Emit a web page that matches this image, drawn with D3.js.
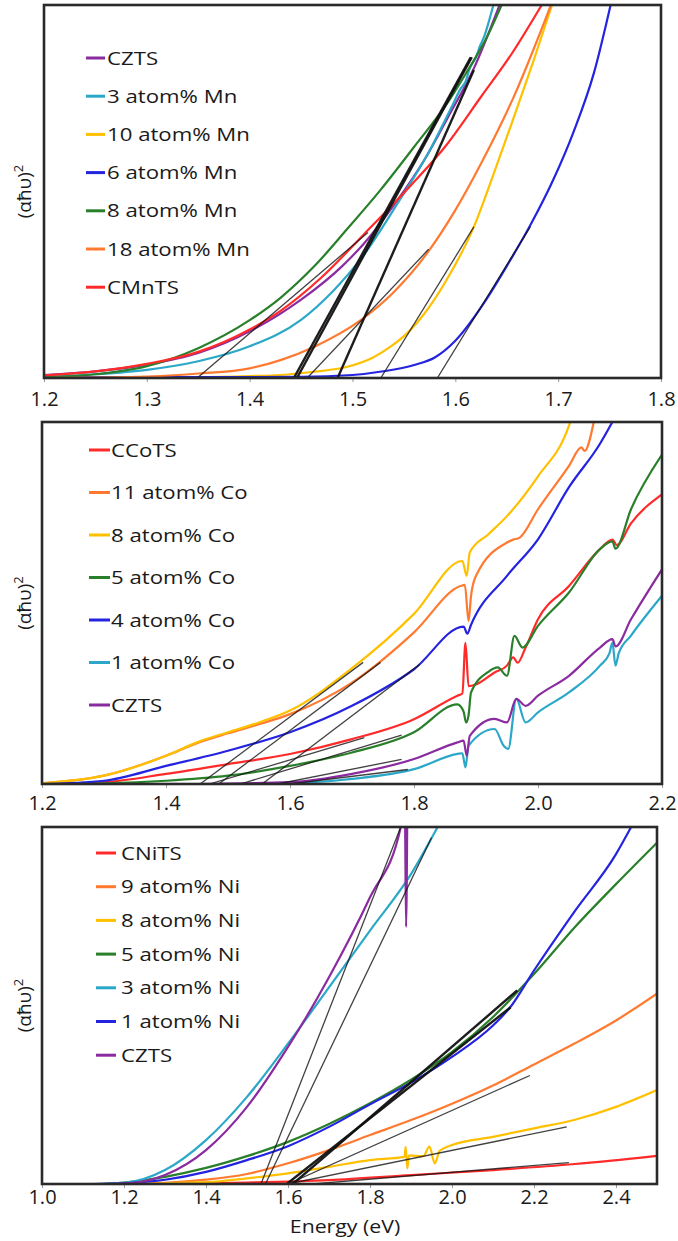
<!DOCTYPE html>
<html>
<head>
<meta charset="utf-8">
<script src="https://cdn.jsdelivr.net/npm/d3@7"></script>
<style>
body{margin:0;background:#fff;}
text{font-family:"Open Sans",sans-serif;fill:#1a1a1a;}
</style>
</head>
<body>
<svg id="fig" width="678" height="1241"></svg>
<script>
// colours used in all three panels
var PURPLE="#8B2BA0",CYAN="#2BA8C8",YELLOW="#FFC000",BLUE="#2424E0",GREEN="#2A7F2A",ORANGE="#FF7A30",RED="#FF2A2A";

/* ---- panel 1 : Mn ---- */
var mnNames=["CZTS","3 atom% Mn","10 atom% Mn","6 atom% Mn","8 atom% Mn","18 atom% Mn","CMnTS"];
var mnColors=[PURPLE,CYAN,YELLOW,BLUE,GREEN,ORANGE,RED];
var mnTicks=[1.2,1.3,1.4,1.5,1.6,1.7,1.8];
var mnCZTS=[[1.2,0.8],[1.25,1.8],[1.3,3.6],[1.35,6.7],[1.4,12.5],[1.45,21],[1.49,30],[1.511,36],[1.542,47],[1.57,58.5],[1.593,70],[1.618,83],[1.643,100]];
var mn3=[[1.2,0.3],[1.25,1.0],[1.3,2.2],[1.35,4.5],[1.4,8.5],[1.45,15.6],[1.48,23],[1.511,33],[1.542,46],[1.575,61],[1.597,73],[1.605,77.5],[1.61,79.5],[1.614,83],[1.62,86],[1.624,89],[1.628,91.5],[1.632,95],[1.637,100]];
var mn10=[[1.2,0],[1.35,0.2],[1.4,0.5],[1.43,0.8],[1.46,1.6],[1.495,3],[1.52,5.5],[1.537,8.4],[1.555,12.5],[1.57,17.3],[1.593,27],[1.618,40.5],[1.637,54.5],[1.657,70],[1.676,85],[1.694,100]];
var mn6=[[1.2,0.2],[1.45,0.3],[1.5,0.8],[1.53,1.8],[1.56,3.5],[1.58,5.5],[1.6,10],[1.63,21],[1.65,30],[1.673,41],[1.695,53],[1.715,66],[1.735,82],[1.751,100]];
var mn8=[[1.2,0.2],[1.25,1.0],[1.3,3.2],[1.35,8],[1.4,15.5],[1.43,21.5],[1.463,30],[1.495,40],[1.5275,50.5],[1.56,62],[1.593,74],[1.61,81.5],[1.63,91],[1.645,100]];
var mn18=[[1.2,0],[1.25,0.1],[1.3,0.4],[1.35,1.2],[1.4,2.6],[1.43,4.8],[1.463,8.4],[1.508,15.5],[1.54,23],[1.574,34],[1.6,45],[1.625,57.5],[1.657,75.5],[1.693,100]];
var mnCMnTS=[[1.2,0.7],[1.25,1.8],[1.3,3.8],[1.35,7],[1.4,13],[1.43,18],[1.47,27],[1.511,38.5],[1.558,52],[1.59,62],[1.625,75.4],[1.655,87],[1.684,100]];
// linear fits: start energy, start value, end energy, end value
var mnFits=[[1.349,0,1.515,39],[1.443,0,1.615,86],[1.446,0,1.616,86],[1.456,0,1.574,34.5],[1.4855,0,1.618,82.6],[1.5275,0,1.618,40.5],[1.5825,0,1.673,40.6]];
var mnFitBold=[0,1,1,0,1,0,0];

/* ---- panel 2 : Co ---- */
var coNames=["CCoTS","11 atom% Co","8 atom% Co","5 atom% Co","4 atom% Co","1 atom% Co","CZTS"];
var coColors=[RED,ORANGE,YELLOW,GREEN,BLUE,CYAN,PURPLE];
var coTicks=[1.2,1.4,1.6,1.8,2.0,2.2];
var coCCoTS=[[1.2,0],[1.3,0.5],[1.4,2.8],[1.5,5.5],[1.6,8.3],[1.7,12.4],[1.8,17.9],[1.87,24.4],[1.878,25],[1.883,39],[1.888,27],[1.9,27.5],[1.93,30.8],[1.95,32.7],[1.96,35],[1.967,33.5],[1.98,37.7],[2.0,45.5],[2.05,54.7],[2.1,64.9],[2.12,67.5],[2.127,66],[2.15,72],[2.2,80]];
var coCo11=[[1.2,0.2],[1.3,2.3],[1.4,7.8],[1.45,11.3],[1.5,14],[1.55,16.5],[1.6,19.3],[1.7,28],[1.8,41.9],[1.875,54.7],[1.882,55],[1.888,45],[1.892,52],[1.9,57.5],[1.95,66.7],[1.96,67.5],[1.97,68],[2.0,75.9],[2.05,87.9],[2.07,93],[2.075,92],[2.09,100]];
var coCo8=[[1.2,0.2],[1.3,2.3],[1.4,7.8],[1.45,11.5],[1.5,14.3],[1.55,17],[1.6,20.3],[1.7,32],[1.8,47],[1.878,61.6],[1.885,57.5],[1.89,64],[1.92,69],[1.95,74],[2.0,85],[2.05,99],[2.052,100]];
var coCo5=[[1.2,0],[1.3,0.2],[1.4,0.9],[1.5,2.3],[1.6,5],[1.7,8.7],[1.8,14.3],[1.87,22],[1.88,20],[1.884,17],[1.888,19],[1.892,25.3],[1.92,31],[1.935,32.2],[1.95,29.9],[1.962,40.9],[1.975,37.7],[2.0,43.7],[2.05,52.9],[2.1,64.9],[2.12,67],[2.125,65],[2.15,75.9],[2.2,91]];
var coCo4=[[1.2,0],[1.3,0.9],[1.4,5],[1.5,9.2],[1.6,14.3],[1.7,21.6],[1.8,31.7],[1.88,43.5],[1.886,41.5],[1.892,44],[1.95,57.5],[2.0,67.6],[2.05,82],[2.1,94],[2.12,100]];
var coCo1=[[1.5,0],[1.6,0.2],[1.7,1.4],[1.8,4.1],[1.87,8.3],[1.878,8.5],[1.883,4.6],[1.888,10.6],[1.93,15.2],[1.945,10.5],[1.952,9.7],[1.965,23.5],[1.98,17],[2.0,19.8],[2.05,25.3],[2.1,32.7],[2.115,36],[2.12,39],[2.125,32.7],[2.13,36],[2.15,41],[2.2,52]];
var coCZTS=[[1.45,0],[1.6,0.5],[1.7,2.8],[1.8,6.9],[1.87,11.5],[1.88,12],[1.885,7.8],[1.89,13.3],[1.93,18],[1.95,17],[1.965,23.5],[1.98,21.6],[2.0,24.4],[2.05,29.9],[2.1,37.7],[2.12,40],[2.125,38],[2.15,45.5],[2.2,59.3]];
var coFits=[[1.47,0,1.72,12.8],[1.485,0,1.746,33.6],[1.455,0,1.718,33.6],[1.52,0,1.78,13.5],[1.555,0,1.809,33],[1.6,0,1.79,4],[1.58,0,1.78,6.8]];
var coFitBold=[0,0,0,0,0,0,0];

/* ---- panel 3 : Ni ---- */
var niNames=["CNiTS","9 atom% Ni","8 atom% Ni","5 atom% Ni","3 atom% Ni","1 atom% Ni","CZTS"];
var niColors=[RED,ORANGE,YELLOW,GREEN,CYAN,BLUE,PURPLE];
var niTicks=[1.0,1.2,1.4,1.6,1.8,2.0,2.2,2.4];
var niCNiTS=[[1.3,0],[1.5,0.4],[1.7,1.1],[1.9,2.5],[2.1,3.9],[2.3,5.6],[2.5,7.9]];
var ni9=[[1.2,0],[1.3,0.3],[1.4,1.2],[1.5,2.8],[1.6,5.8],[1.7,9.5],[1.8,13.7],[1.9,17.9],[2.0,22.5],[2.1,27.6],[2.2,33.5],[2.3,39.4],[2.4,45.8],[2.5,53.3]];
var ni8=[[1.2,0],[1.4,0.5],[1.5,1.6],[1.6,3],[1.7,4.8],[1.8,6.7],[1.884,7.6],[1.887,10.4],[1.891,4.4],[1.895,8],[1.93,7.8],[1.945,10.5],[1.958,5.8],[1.97,9.3],[2.0,10.9],[2.1,13.2],[2.2,15.6],[2.3,18],[2.4,21.6],[2.5,26.3]];
var ni5=[[1.15,0],[1.2,0.4],[1.3,2],[1.4,4.5],[1.5,7.8],[1.6,11.8],[1.7,16.8],[1.8,22.6],[1.9,29.2],[2.0,37],[2.1,46.8],[2.2,58.8],[2.3,72],[2.4,84],[2.5,95.6]];
var ni3=[[1.13,0],[1.2,0.3],[1.3,3.9],[1.4,12.3],[1.5,24.4],[1.6,39.3],[1.7,55.1],[1.8,71],[1.9,86.8],[1.965,100]];
var ni1=[[1.15,0],[1.2,0.2],[1.3,1.2],[1.4,3.4],[1.5,6.7],[1.6,10.6],[1.7,16],[1.8,22.3],[1.9,28.4],[2.0,35.6],[2.1,44.4],[2.14,49.2],[2.2,59.8],[2.3,76.5],[2.4,92.4],[2.437,100]];
var niCZTS=[[1.12,0],[1.2,0.1],[1.3,2.5],[1.4,9.5],[1.5,21.6],[1.6,38.4],[1.7,57.9],[1.8,80.3],[1.875,100],[1.885,106],[1.888,72],[1.891,106]];
var niFits=[[1.66,0,2.285,6],[1.6,0,2.19,30.4],[1.6,0,2.28,16],[1.612,0,2.159,54.2],[1.545,0,1.95,97],[1.597,0,2.143,49.5],[1.534,0,1.875,100]];
var niFitBold=[0,0,0,1,0,1,0];

var svg=d3.select("#fig");

function drawPanel(id,box,domain,ticks,tickFmt,tickPad,names,colors,series,fits,bold,legend){
	var x=d3.scaleLinear().domain(domain).range([box.l,box.r]);
	var y=d3.scaleLinear().domain([0,100]).range([box.b,box.t]);
	var g=svg.append("g");
	g.append("clipPath").attr("id",id).append("rect")
		.attr("x",box.l).attr("y",box.t).attr("width",box.r-box.l).attr("height",box.b-box.t);
	var line=d3.line().x(function(d){return x(d[0]);}).y(function(d){return y(d[1]);}).curve(d3.curveMonotoneX);
	var plot=g.append("g").attr("clip-path","url(#"+id+")");
	series.forEach(function(s,i){
		plot.append("path").attr("d",line(s)).attr("fill","none")
			.attr("stroke",colors[i]).attr("stroke-width",2.2).attr("stroke-linejoin","round");
	});
	fits.forEach(function(f,i){
		plot.append("line").attr("x1",x(f[0])).attr("y1",y(f[1])).attr("x2",x(f[2])).attr("y2",y(f[3]))
			.attr("stroke","#111").attr("stroke-opacity",bold[i]?0.95:0.8).attr("stroke-width",bold[i]?2.4:1.3);
	});
	// axis
	var ax=g.append("g").attr("transform","translate(0,"+box.b+")")
		.call(d3.axisBottom(x).tickValues(ticks).tickFormat(tickFmt).tickSize(4).tickPadding(tickPad));
	ax.select(".domain").remove();
	ax.selectAll(".tick line").attr("stroke","#999");
	ax.selectAll(".tick text").style("font-size","20px").style("font-family","Open Sans, sans-serif").attr("fill","#111");
	// frame
	g.append("rect").attr("x",box.l).attr("y",box.t).attr("width",box.r-box.l).attr("height",box.b-box.t)
		.attr("fill","none").attr("stroke","#2a2a2a").attr("stroke-width",2.6);
	// y label
	var yl=g.append("text").attr("transform","translate(31,"+((box.t+box.b)/2)+") rotate(-90)")
		.attr("text-anchor","middle").style("font-size","19px");
	yl.append("tspan").text("(\u03B1\u0127\u03C5)");
	yl.append("tspan").text("2").attr("dy",-8).style("font-size","13px");
	// legend
	names.forEach(function(n,i){
		var ly=legend.y+i*legend.dy;
		g.append("line").attr("x1",legend.x0).attr("x2",legend.x1).attr("y1",ly).attr("y2",ly)
			.attr("stroke",colors[i]).attr("stroke-width",3);
		g.append("text").attr("transform","translate("+legend.tx+","+(ly+6.5)+") scale(1.2,1)")
			.style("font-size","18.5px").text(n);
	});
}

var f1=function(d){return d3.format(".1f")(d);};
drawPanel("c1",{l:44,r:661,t:5,b:378},[1.2,1.8],mnTicks,f1,10,mnNames,mnColors,
	[mnCZTS,mn3,mn10,mn6,mn8,mn18,mnCMnTS],mnFits,mnFitBold,{x0:86,x1:105,tx:107,y:58,dy:38.2});
drawPanel("c2",{l:42,r:662,t:422,b:784},[1.2,2.2],coTicks,f1,8,coNames,coColors,
	[coCCoTS,coCo11,coCo8,coCo5,coCo4,coCo1,coCZTS],coFits,coFitBold,{x0:89,x1:110,tx:111,y:450,dy:42.5});
drawPanel("c3",{l:42,r:657,t:827,b:1184},[1.0,2.5],niTicks,f1,2,niNames,niColors,
	[niCNiTS,ni9,ni8,ni5,ni3,ni1,niCZTS],niFits,niFitBold,{x0:96,x1:116,tx:121,y:853,dy:33.7});

svg.append("text").attr("transform","translate(345,1233) scale(1.12,1)").attr("text-anchor","middle")
	.style("font-size","19px").text("Energy (eV)");
</script>
</body>
</html>
